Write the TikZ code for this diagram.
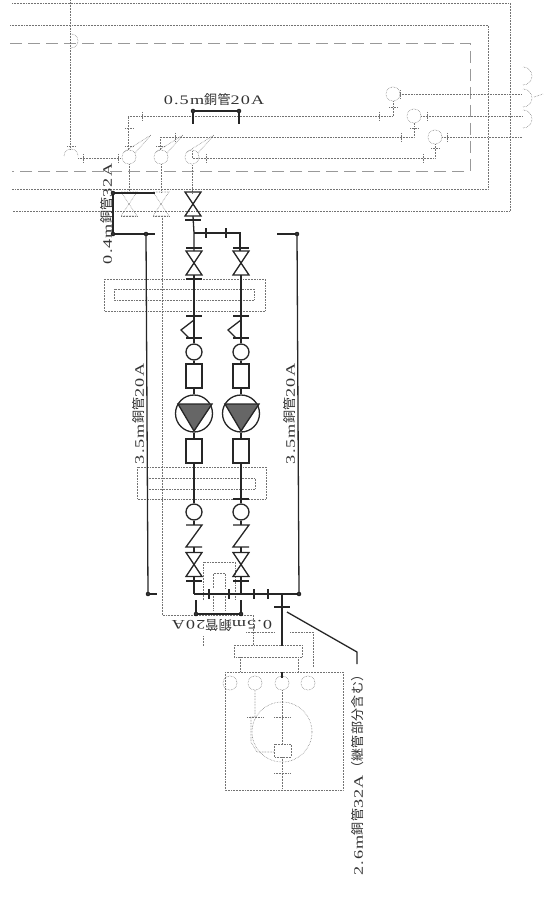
\documentclass[tikz,border=0pt]{standalone}
\usepackage{fontspec}
\setmainfont[FakeStretch=1.4,LetterSpace=9]{Liberation Serif}
\newfontfamily\cjk[LetterSpace=3]{Noto Sans CJK JP}
\usetikzlibrary{calc}
\tikzstyle{pipe} = [line width=1.3pt,black!85]
\tikzstyle{ghost} = [line width=0.55pt,densely dotted,black!55]
\tikzstyle{ghostdash} = [line width=0.45pt,dash pattern=on 12pt off 6pt,black!40]
\tikzstyle{dot} = [circle,fill=black!80,draw=black,inner sep=0pt,minimum size=4pt]
\tikzstyle{strainer} = [circle,draw=black!85,line width=1.3pt,inner sep=0pt,minimum size=16pt]
\tikzstyle{meter} = [rectangle,draw=black!85,line width=1.3pt,inner sep=0pt,minimum width=16pt,minimum height=24pt]
\tikzstyle{pumpcase} = [circle,draw=black!85,line width=1.3pt,inner sep=0pt,minimum size=37pt]
\tikzstyle{pipetext} = [inner sep=0pt,black!80,font=\fontsize{13}{14}\selectfont]
\newcommand{\valve}[3][pipe]{\draw[#1,shift={(#2,#3)}] (-8,-12) -- (8,-12) -- (-8,12) -- (8,12) -- cycle;}
\newcommand{\flange}[3][pipe]{\draw[#1,shift={(#2,#3)}] (-8,0) -- (8,0);}
\newcommand{\tickv}[2]{\draw[pipe,shift={(#1,#2)}] (0,-5) -- (0,5);}
\newcommand{\ghostring}[2]{\draw[ghost] (#1,#2) circle (7);}

\begin{document}
\begin{tikzpicture}[x=1pt,y=-1pt]
        \useasboundingbox (0,0) rectangle (543,904);

        % building outline, grey
        \draw[ghost] (12,3) -- (510,3) -- (510,211) -- (12,211);
        \draw[ghost] (10,25) -- (488,25) -- (488,189) -- (12,189);
        \draw[ghostdash] (10,43) -- (470,43) -- (470,171) -- (12,171);
        \draw[ghost] (70,0) -- (70,150);
        \draw[ghost] (71,48) arc (90:-90:7);
        \draw[ghost] (64,156) arc (180:360:7);

        % upper header, grey
        \draw[ghost] (78,158) -- (120,158);
        \draw[ghost] (128,150) -- (128,116) -- (393,116) -- (393,101);
        \draw[ghost] (160,150) -- (160,137) -- (414,137) -- (414,123);
        \draw[ghost] (192,151) -- (192,158) -- (435,158) -- (435,144);
        \foreach \nx/\ny in {393/94, 414/116, 435/137} {
            \ghostring{\nx}{\ny}
            \draw[ghost] (\nx+7,\ny) -- (522,\ny);
            \draw[ghost] (523,\ny-9) arc (90:-90:9);
        }
        \draw[ghost] (534,97) -- (543,94);
        \foreach \nx in {129,161,192} {
            \draw[ghost] (\nx,157) circle (7);
            \draw[ghost] (\nx-5,152) -- (\nx+22,135) -- (\nx+6,153);
        }
        \foreach \nx in {129,161} {
            \draw[ghost] (\nx,164) -- (\nx,193);
            \valve[ghost]{\nx}{204}
            \flange[ghost]{\nx}{216}
        }
        \draw[ghost] (192,165) -- (192,193);
        % small flanges on the header
        \foreach \nx/\ny in {83/158, 118/158, 206/158, 423/158, 142/116, 379/116, 175/137, 401/137, 400/94, 427/116, 447/137} {
            \draw[ghost] (\nx,\ny-4) -- (\nx,\ny+4);
        }
        \foreach \nx/\ny in {71/146, 129/128, 129/146, 160/146, 393/107, 414/128, 435/148} {
            \draw[ghost] (\nx-4,\ny) -- (\nx+4,\ny);
        }

        % through the building, grey
        \draw[ghost] (162,216) -- (162,615) -- (253,615) -- (253,645);
        \draw[ghost] (104,279) rectangle (265,311);
        \draw[ghost] (114,289) rectangle (254,300);
        \draw[ghost] (137,467) rectangle (266,499);
        \draw[ghost] (147,478) -- (255,478) -- (255,489) -- (147,489);
        \draw[ghost] (203,600) -- (203,562) -- (235,562) -- (235,600);
        \draw[ghost] (213,588) -- (213,573) -- (225,573) -- (225,588);
        \draw[ghost] (213,594) -- (213,610);
        \draw[ghost] (225,594) -- (225,610);
        \draw[ghost] (203,636) -- (203,646);

        % chiller, grey
        \draw[ghost] (234,645) rectangle (302,657);
        \draw[ghost] (246,632) -- (274,632);
        \draw[ghost] (290,632) -- (313,632) -- (313,667);
        \draw[ghost] (225,672) rectangle (343,790);
        \draw[ghost] (282,732) circle (30);
        \foreach \nx in {230,255,282,308} {
            \draw[ghost] (\nx,683) circle (7);
        }
        \draw[ghost] (240,657) -- (240,672);
        \draw[ghost] (298,657) -- (298,672);
        \draw[ghost] (255,690) -- (255,717) -- (251,717) -- (251,742) -- (257,752) -- (274,752);
        \draw[ghost] (282,690) -- (282,744);
        \draw[ghost] (274,744) rectangle (291,757);
        \flange[ghost]{255}{717}
        \flange[ghost]{282}{717}
        \flange[ghost]{282}{773}
        \draw[ghost] (282,757) -- (282,790);

        % bends of the main line
        \coordinate (teeA) at (194,233);
        \coordinate (bendA) at (240,233);
        \coordinate (headL) at (194,594);
        \coordinate (headR) at (299,594);
        \coordinate (teeB) at (282,594);
        \coordinate (chillerin) at (282,646);

        % first pump column and second pump column
        \foreach \n/\c in {1/194, 2/241} {
            \node[strainer] (strainU\n) at (\c,352) {};
            \node[meter] (meterU\n) at (\c,376) {};
            \node[pumpcase] (pump\n) at (\c,413.5) {};
            \node[meter] (meterL\n) at (\c,451) {};
            \node[strainer] (strainL\n) at (\c,512) {};
            \fill[black!60] (\c-16,404) -- (\c+18,404) -- (\c,431) -- cycle;
            \draw[pipe] (\c-16,404) -- (\c+18,404) -- (\c,431) -- cycle;
            \valve{\c}{263}
            \draw[pipe] (\c,275) -- (\c,316);
            \flange{\c}{316}
            \draw[pipe] (\c,316) -- (\c,338);
            \draw[pipe] (\c,320) -- (\c-13,330) -- (\c-5,338);
            \flange{\c}{338}
            \draw[pipe] (\c,338) -- (strainU\n);
            \draw[pipe] (strainU\n) -- (meterU\n);
            \draw[pipe] (meterU\n) -- (pump\n);
            \draw[pipe] (pump\n) -- (meterL\n);
            \draw[pipe] (meterL\n) -- (strainL\n);
            \draw[pipe] (strainL\n) -- (\c,525);
            \draw[pipe] (\c-8,525) -- (\c+8,525) -- (\c-8,547) -- (\c+8,547);
            \draw[pipe] (\c,547) -- (\c,553);
            \valve{\c}{564.5}
            \draw[pipe] (\c,576) -- (\c,594);
            \flange{\c}{581}
            \flange{\c}{248}
        }
        \flange{194}{279}
        \flange{241}{499}

        % top valve and branch
        \valve{193}{204}
        \flange{193}{220}
        \draw[pipe] (193,216) -- (teeA) -- (194,251);
        \draw[pipe] (teeA) -- (bendA) -- (240,251);
        \tickv{206}{233}
        \tickv{226}{233}

        % header under the pumps
        \draw[pipe] (headL) -- (headR);
        \foreach \nx in {209,229,254,268} {
            \tickv{\nx}{594}
        }
        \draw[pipe] (teeB) -- (chillerin);
        \flange{282}{607}
        \draw[pipe] (282,672) -- (282,678);

        % dimension lines
        \node[dot] (topL) at (193,111) {};
        \node[dot] (topR) at (239,111) {};
        \draw[pipe] (topL) -- (topR);
        \draw[pipe] (topL) -- (193,124);
        \draw[pipe] (topR) -- (239,124);
        \node[dot] (riseT) at (113,193) {};
        \node[dot] (riseB) at (113,234) {};
        \draw[pipe] (riseT) -- (riseB);
        \draw[pipe] (riseT) -- (155,193);
        \draw[pipe] (riseB) -- (155,234);
        \node[dot] (longLT) at (146,234) {};
        \node[dot] (longLB) at (148,594) {};
        \draw[pipe] (longLT) -- (longLB);
        \draw[pipe] (longLB) -- (157,594);
        \node[dot] (longRT) at (297,234) {};
        \node[dot] (longRB) at (299,594) {};
        \draw[pipe] (longRT) -- (longRB);
        \draw[pipe] (277,234) -- (longRT);
        \node[dot] (botL) at (196,614) {};
        \node[dot] (botR) at (241,614) {};
        \draw[pipe] (botL) -- (botR);
        \draw[pipe] (botL) -- (196,600);
        \draw[pipe] (botR) -- (241,600);
        \coordinate (leadA) at (287,612);
        \coordinate (leadB) at (357,652);
        \coordinate (leadC) at (357,664);
        \draw[pipe] (leadA) -- (leadB) -- (leadC);

        % labels
        \node[pipetext] (lblTop) at (214,100) {0.5m{\cjk 銅管}20A};
        \node[pipetext,rotate=90] (lblRise) at (107,214) {0.4m{\cjk 銅管}32A};
        \node[pipetext,rotate=90] (lblLeft) at (139,414) {3.5m{\cjk 銅管}20A};
        \node[pipetext,rotate=90] (lblRight) at (290,414) {3.5m{\cjk 銅管}20A};
        \node[pipetext,rotate=180] (lblBot) at (222,625) {0.5m{\cjk 銅管}20A};
        \node[pipetext,rotate=90,anchor=east] (lblChiller) at (358,668) {2.6m{\cjk 銅管}32A{\cjk （継管部分含む）}};

    \end{tikzpicture}
\end{document}
